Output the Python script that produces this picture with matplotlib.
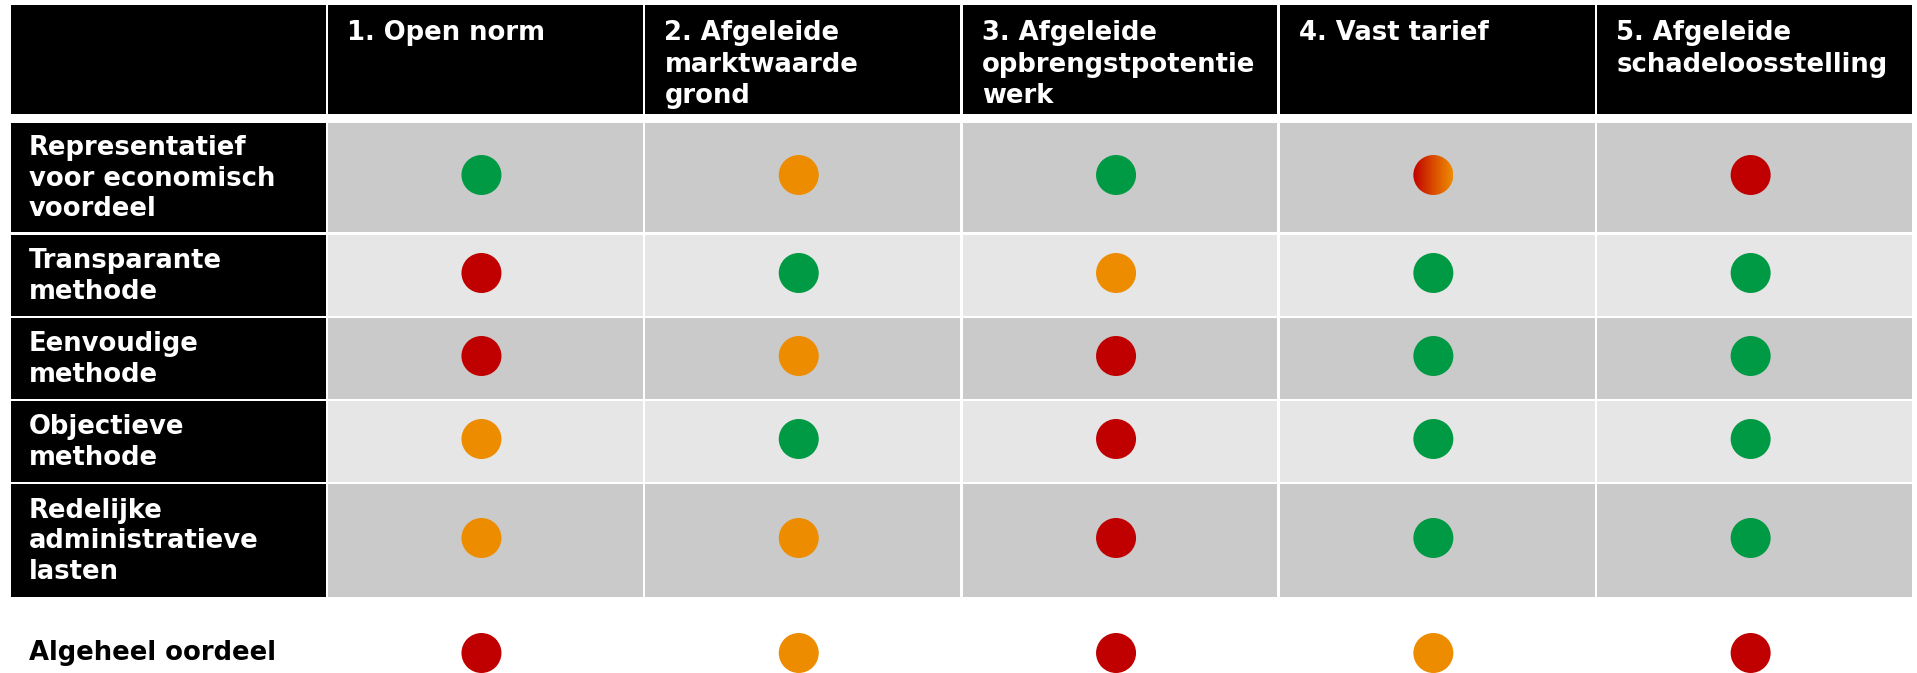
import matplotlib
matplotlib.use("Agg")
import matplotlib.pyplot as plt
import numpy as np
from matplotlib.patches import Rectangle, Circle
from matplotlib.colors import LinearSegmentedColormap

# ---------------- data ----------------
columns = ["1. Open norm",
           "2. Afgeleide\nmarktwaarde\ngrond",
           "3. Afgeleide\nopbrengstpotentie\nwerk",
           "4. Vast tarief",
           "5. Afgeleide\nschadeloosstelling"]
criteria = ["Representatief\nvoor economisch\nvoordeel",
            "Transparante\nmethode",
            "Eenvoudige\nmethode",
            "Objectieve\nmethode",
            "Redelijke\nadministratieve\nlasten"]
overall_label = "Algeheel oordeel"
# G = groen, O = oranje, R = rood, RO = rood/oranje
ratings = [["G", "O", "G", "RO", "R"],
           ["R", "G", "O", "G", "G"],
           ["R", "O", "R", "G", "G"],
           ["O", "G", "R", "G", "G"],
           ["O", "O", "R", "G", "G"]]
overall = ["R", "O", "R", "O", "R"]

# ---------------- style / layout ----------------
GREEN = "#009A44"
ORANGE = "#EE8C00"
RED = "#C00000"
COLORS = {"G": GREEN, "O": ORANGE, "R": RED}
DARK = "#CACACA"
LIGHT = "#E6E6E6"

W, H = 1917, 673
col0_left, col0_w = 10.5, 315.0
gap = 2.6
col_w = 314.7
header_top, header_bot = 5.0, 114.0
row_bounds = [(123, 232), (235, 316), (318, 399), (401, 482), (484, 597)]
overall_y = 653
dot_r = 20
fs = 18.6

fig = plt.figure(figsize=(W / 100, H / 100), dpi=100)
ax = fig.add_axes([0, 0, 1, 1])
ax.set_xlim(0, W)
ax.set_ylim(H, 0)
ax.axis("off")

col_lefts = [col0_left + col0_w + gap + i * (col_w + gap) for i in range(len(columns))]
centers = [l + col_w / 2 - 4 for l in col_lefts]

# header
ax.add_patch(Rectangle((col0_left, header_top), col0_w, header_bot - header_top,
                       facecolor="black", edgecolor="none"))
for l, name in zip(col_lefts, columns):
    ax.add_patch(Rectangle((l, header_top), col_w, header_bot - header_top,
                           facecolor="black", edgecolor="none"))
    ax.text(l + 19, 20.5, name, color="white", fontsize=fs, fontweight="bold",
            ha="left", va="top", linespacing=1.26, family="DejaVu Sans")

cmap = LinearSegmentedColormap.from_list("ro", [RED, "#D94A00", ORANGE])
grad = np.linspace(0, 1, 256).reshape(1, -1)


def dot(cx, cy, code):
    if code == "RO":
        circ = Circle((cx, cy), dot_r, facecolor="none", edgecolor="none")
        ax.add_patch(circ)
        im = ax.imshow(grad, cmap=cmap, extent=(cx - dot_r, cx + dot_r, cy + dot_r, cy - dot_r),
                       aspect="auto", interpolation="bilinear", zorder=3)
        im.set_clip_path(circ)
    else:
        ax.add_patch(Circle((cx, cy), dot_r, facecolor=COLORS[code], edgecolor="none", zorder=3))


# body rows
for r, ((y0, y1), label, row) in enumerate(zip(row_bounds, criteria, ratings)):
    bg = DARK if r % 2 == 0 else LIGHT
    ax.add_patch(Rectangle((col0_left, y0), col0_w, y1 - y0, facecolor="black", edgecolor="none"))
    ax.text(col0_left + 18.5, (y0 + y1) / 2 + 1, label, color="white", fontsize=fs,
            fontweight="bold", ha="left", va="center", linespacing=1.22, family="DejaVu Sans")
    for c, (l, code) in enumerate(zip(col_lefts, row)):
        ax.add_patch(Rectangle((l, y0), col_w, y1 - y0, facecolor=bg, edgecolor="none"))
        dot(centers[c], (y0 + y1) / 2 - 2.5, code)

# overall row
ax.text(col0_left + 18.5, overall_y, overall_label, color="black", fontsize=fs,
        fontweight="bold", ha="left", va="center", family="DejaVu Sans")
for c, code in enumerate(overall):
    dot(centers[c], overall_y, code)

ax.set_xlim(0, W)
ax.set_ylim(H, 0)
fig.savefig("out.png", dpi=100, facecolor="white")
